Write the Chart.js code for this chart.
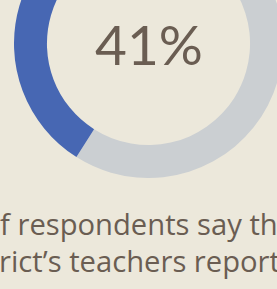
<!DOCTYPE html>
<html>
<head>
<meta charset="utf-8">
<script src="https://cdn.jsdelivr.net/npm/chart.js@4"></script>
<style>
  html, body { margin: 0; padding: 0; }
  body { width: 277px; height: 289px; overflow: hidden; background: #ECE8DB; position: relative; font-family: "Open Sans", sans-serif; }
  #wrap { position: absolute; left: 14px; top: -91px; width: 269px; height: 269px; }
  .line { position: absolute; white-space: nowrap; font-size: 29.2px; color: #6A5D52; line-height: 1; }
  .mark { display: inline-block; width: 0; height: 0; }
</style>
</head>
<body>
<div id="wrap"><canvas id="donut" width="269" height="269"></canvas></div>
<div class="line" id="l1"><span class="mark"></span><span>o</span><span class="vis">f respondents say that</span></div>
<div class="line" id="l2"><span class="mark"></span><span>dist</span><span class="vis">rict’s teachers report</span></div>
<script>
const labels = ["Other", "Say yes"];
const values = [59, 41];
const colors = ["#CBCFD2", "#4767B3"];
const centerLabel = "41%";

// text for the center of the ring
const centerText = {
    id: "centerText",
    afterDraw(chart) {
        const { ctx } = chart;
        const arc = chart.getDatasetMeta(0).data[0];
        ctx.save();
        ctx.font = "55px Lato";
        ctx.fillStyle = "#6A5D52";
        ctx.textAlign = "center";
        ctx.textBaseline = "alphabetic";
        ctx.fillText(centerLabel, arc.x + 0.5, arc.y + 21);
        ctx.restore();
    }
};

new Chart(document.getElementById("donut"), {
    type: "doughnut",
    data: {
        labels,
        datasets: [{ data: values, backgroundColor: colors, borderWidth: 0 }]
    },
    options: {
        responsive: false,
        animation: false,
        cutout: "75.5%",
        layout: { padding: 0 },
        plugins: { legend: { display: false }, tooltip: { enabled: false } }
    },
    plugins: [centerText]
});

// shift each caption line: visible part starts at x, baseline at y
function place(id, x, baseline) {
    const el = document.getElementById(id);
    const vis = el.querySelector(".vis");
    const mark = el.querySelector(".mark");
    el.style.top = (baseline - mark.offsetTop) + "px";
    el.style.left = (x - vis.offsetLeft) + "px";
}
place("l1", 0.5, 234.5);
place("l2", -0.5, 272);
</script>
</body>
</html>
